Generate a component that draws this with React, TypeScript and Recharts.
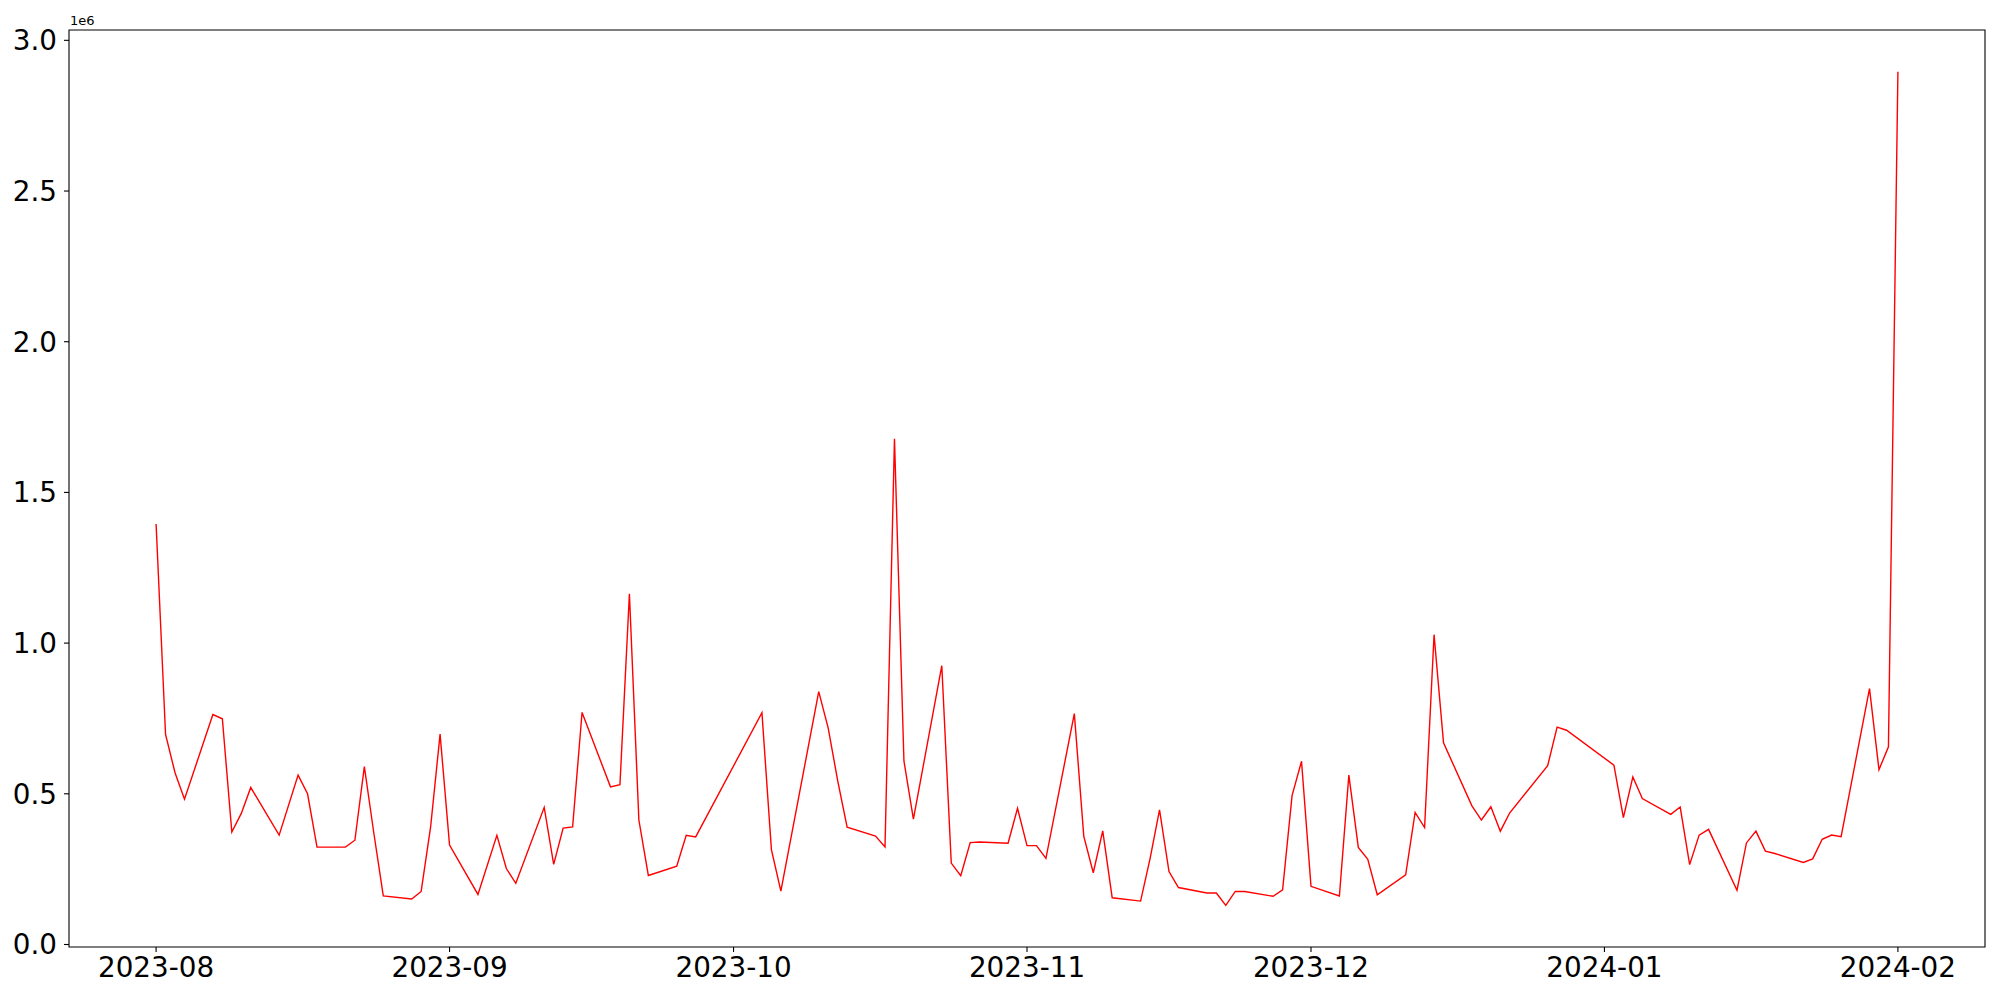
import { LineChart, Line, XAxis, YAxis, ReferenceArea } from 'recharts';

const dates = [
  '2023-08-01', '2023-08-02', '2023-08-03', '2023-08-04', '2023-08-07', '2023-08-08', '2023-08-09', '2023-08-10',
  '2023-08-11', '2023-08-14', '2023-08-16', '2023-08-17', '2023-08-18', '2023-08-21', '2023-08-22', '2023-08-23',
  '2023-08-24', '2023-08-25', '2023-08-28', '2023-08-29', '2023-08-30', '2023-08-31', '2023-09-01', '2023-09-04',
  '2023-09-06', '2023-09-07', '2023-09-08', '2023-09-11', '2023-09-12', '2023-09-13', '2023-09-14', '2023-09-15',
  '2023-09-18', '2023-09-19', '2023-09-20', '2023-09-21', '2023-09-22', '2023-09-25', '2023-09-26', '2023-09-27',
  '2023-10-04', '2023-10-05', '2023-10-06', '2023-10-10', '2023-10-11', '2023-10-12', '2023-10-13', '2023-10-16',
  '2023-10-17', '2023-10-18', '2023-10-19', '2023-10-20', '2023-10-23', '2023-10-24', '2023-10-25', '2023-10-26',
  '2023-10-27', '2023-10-30', '2023-10-31', '2023-11-01', '2023-11-02', '2023-11-03', '2023-11-06', '2023-11-07',
  '2023-11-08', '2023-11-09', '2023-11-10', '2023-11-13', '2023-11-14', '2023-11-15', '2023-11-16', '2023-11-17',
  '2023-11-20', '2023-11-21', '2023-11-22', '2023-11-23', '2023-11-24', '2023-11-27', '2023-11-28', '2023-11-29',
  '2023-11-30', '2023-12-01', '2023-12-04', '2023-12-05', '2023-12-06', '2023-12-07', '2023-12-08', '2023-12-11',
  '2023-12-12', '2023-12-13', '2023-12-14', '2023-12-15', '2023-12-18', '2023-12-19', '2023-12-20', '2023-12-21',
  '2023-12-22', '2023-12-26', '2023-12-27', '2023-12-28', '2024-01-02', '2024-01-03', '2024-01-04', '2024-01-05',
  '2024-01-08', '2024-01-09', '2024-01-10', '2024-01-11', '2024-01-12', '2024-01-15', '2024-01-16', '2024-01-17',
  '2024-01-18', '2024-01-19', '2024-01-22', '2024-01-23', '2024-01-24', '2024-01-25', '2024-01-26', '2024-01-29',
  '2024-01-30', '2024-01-31', '2024-02-01',
];

// values in units of 1e6
const volume = [
  1.395, 0.697, 0.570, 0.482, 0.763, 0.749, 0.373, 0.435,
  0.521, 0.363, 0.562, 0.500, 0.323, 0.323, 0.346, 0.590,
  0.370, 0.161, 0.151, 0.176, 0.390, 0.698, 0.330, 0.166,
  0.362, 0.252, 0.203, 0.455, 0.266, 0.386, 0.390, 0.770,
  0.523, 0.530, 1.164, 0.413, 0.229, 0.260, 0.362, 0.357,
  0.769, 0.315, 0.177, 0.839, 0.718, 0.544, 0.389, 0.360,
  0.324, 1.678, 0.609, 0.416, 0.925, 0.270, 0.228, 0.338,
  0.340, 0.336, 0.452, 0.328, 0.328, 0.286, 0.766, 0.359,
  0.238, 0.377, 0.155, 0.144, 0.285, 0.447, 0.242, 0.189,
  0.171, 0.171, 0.130, 0.176, 0.176, 0.160, 0.181, 0.494,
  0.608, 0.193, 0.161, 0.562, 0.322, 0.283, 0.165, 0.231,
  0.438, 0.388, 1.028, 0.669, 0.460, 0.413, 0.457, 0.376,
  0.437, 0.593, 0.721, 0.711, 0.595, 0.421, 0.556, 0.484,
  0.432, 0.456, 0.265, 0.363, 0.382, 0.180, 0.337, 0.376,
  0.310, 0.302, 0.272, 0.284, 0.349, 0.363, 0.358, 0.849,
  0.580, 0.656, 2.896,
];

const monthTicks = ['2023-08-01', '2023-09-01', '2023-10-01', '2023-11-01', '2023-12-01', '2024-01-01', '2024-02-01'];
const yTicks = [0, 0.5, 1.0, 1.5, 2.0, 2.5, 3.0];

const toTime = (s: string) => {
  const [y, m, d] = s.split('-').map(Number);
  return Date.UTC(y, m - 1, d);
};

const data = dates.map((d, i) => ({ t: toTime(d), v: volume[i] }));

// matplotlib-style 5% margins
const tMin = Math.min(...data.map((d) => d.t));
const tMax = Math.max(...data.map((d) => d.t));
const vMin = Math.min(...volume);
const vMax = Math.max(...volume);
const xDomain = [tMin - (tMax - tMin) * 0.05, tMax + (tMax - tMin) * 0.05];
const yDomain = [vMin - (vMax - vMin) * 0.05, vMax + (vMax - vMin) * 0.05];

const font = 'DejaVu Sans, sans-serif';
const tickStyle = { fill: '#000', fontSize: 27.8, fontFamily: font };

export default function App() {
  return (
    <div style={{ position: 'absolute', left: 0, top: 0, width: 2000, height: 1000, background: '#fff' }}>
      <div
        style={{
          position: 'absolute',
          left: 70,
          top: 14,
          fontSize: 13,
          lineHeight: '13px',
          fontFamily: font,
          color: '#000',
        }}
      >
        1e6
      </div>
      <LineChart width={2000} height={1000} data={data} margin={{ top: 30, right: 15, left: 0, bottom: 0 }}>
        <XAxis
          dataKey="t"
          type="number"
          scale="time"
          domain={xDomain}
          ticks={monthTicks.map(toTime)}
          tickFormatter={(t: number) => new Date(t).toISOString().slice(0, 7)}
          height={53}
          axisLine={false}
          tickLine={{ stroke: '#000', strokeWidth: 1.1 }}
          tickSize={5}
          tickMargin={5}
          tick={tickStyle}
          allowDataOverflow
        />
        <YAxis
          type="number"
          domain={yDomain}
          ticks={yTicks}
          tickFormatter={(v: number) => v.toFixed(1)}
          width={69}
          axisLine={false}
          tickLine={{ stroke: '#000', strokeWidth: 1.1 }}
          tickSize={5}
          tickMargin={7}
          tick={tickStyle}
          allowDataOverflow
        />
        <ReferenceArea
          x1={xDomain[0]}
          x2={xDomain[1]}
          y1={yDomain[0]}
          y2={yDomain[1]}
          fill="none"
          stroke="#000"
          strokeWidth={1.1}
          ifOverflow="visible"
        />
        <Line
          type="linear"
          dataKey="v"
          stroke="#ff0000"
          strokeWidth={1.4}
          dot={false}
          isAnimationActive={false}
        />
      </LineChart>
    </div>
  );
}
